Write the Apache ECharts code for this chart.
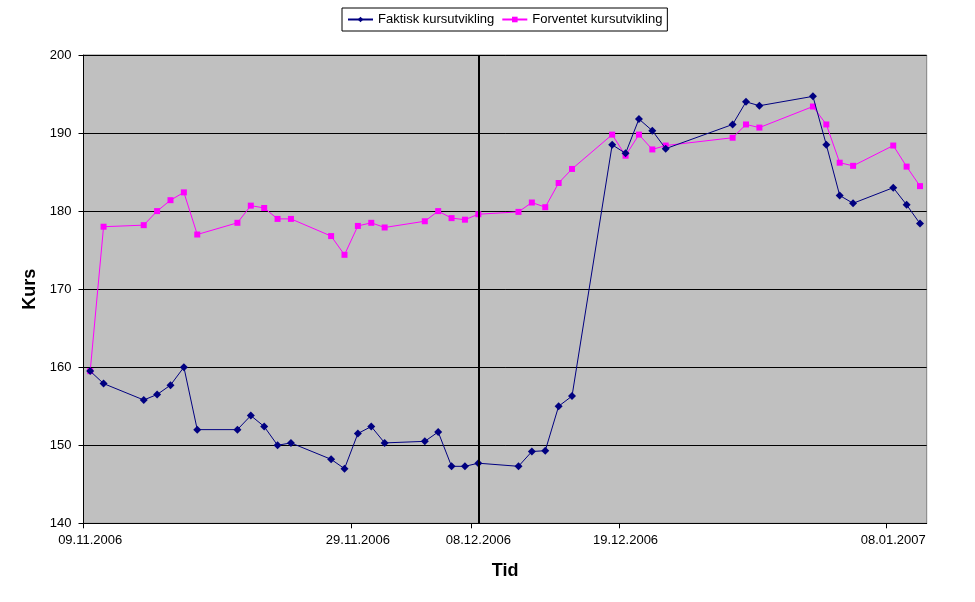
<!DOCTYPE html>
<html>
<head>
<meta charset="utf-8">
<script src="https://cdn.jsdelivr.net/npm/echarts@6/dist/echarts.min.js"></script>
<style>html,body{margin:0;padding:0;background:#fff}#c{width:975px;height:602px}</style>
</head>
<body>
<div id="c"></div>
<script>
// Trading dates (calendar axis runs 09.11.2006 - 10.01.2007)
const tradeDates = [
  '09.11.2006','10.11.2006','13.11.2006','14.11.2006','15.11.2006','16.11.2006','17.11.2006',
  '20.11.2006','21.11.2006','22.11.2006','23.11.2006','24.11.2006',
  '27.11.2006','28.11.2006','29.11.2006','30.11.2006','01.12.2006',
  '04.12.2006','05.12.2006','06.12.2006','07.12.2006','08.12.2006',
  '11.12.2006','12.12.2006','13.12.2006','14.12.2006','15.12.2006',
  '18.12.2006','19.12.2006','20.12.2006','21.12.2006','22.12.2006',
  '27.12.2006','28.12.2006','29.12.2006',
  '02.01.2007','03.01.2007','04.01.2007','05.01.2007',
  '08.01.2007','09.01.2007','10.01.2007'
];
const faktisk = [
  159.5,157.9,155.8,156.5,157.7,160.0,152.0,
  152.0,153.8,152.4,150.0,150.3,
  148.2,147.0,151.5,152.4,150.3,
  150.5,151.7,147.3,147.3,147.7,
  147.3,149.2,149.3,155.0,156.3,
  188.5,187.4,191.8,190.3,188.0,
  191.1,194.0,193.5,
  194.7,188.5,182.0,181.0,
  183.0,180.8,178.4
];
const forventet = [
  159.5,178.0,178.2,180.0,181.4,182.4,177.0,
  178.5,180.7,180.4,179.0,179.0,
  176.8,174.4,178.1,178.5,177.9,
  178.7,180.0,179.1,178.9,179.6,
  179.9,181.1,180.5,183.6,185.4,
  189.8,187.1,189.8,187.9,188.4,
  189.4,191.1,190.7,
  193.4,191.1,186.2,185.8,
  188.4,185.7,183.2
];
const tickLabels = ['09.11.2006','29.11.2006','08.12.2006','19.12.2006','08.01.2007'];
const markerDate = '08.12.2006';
const yMin = 140, yMax = 200, yStep = 10;

// build full calendar category list
function fmt(d){
  const dd = String(d.getDate()).padStart(2,'0');
  const mm = String(d.getMonth()+1).padStart(2,'0');
  return dd+'.'+mm+'.'+d.getFullYear();
}
const categories = [];
{
  const d = new Date(2006,10,9);
  const end = new Date(2007,0,10);
  while (d <= end) { categories.push(fmt(d)); d.setDate(d.getDate()+1); }
}
function fill(vals){
  const arr = categories.map(() => null);
  tradeDates.forEach((t,i) => { arr[categories.indexOf(t)] = vals[i]; });
  return arr;
}
const labelIdx = tickLabels.map(t => categories.indexOf(t));
const FONT = "'Liberation Sans', Arial, sans-serif";

const chart = echarts.init(document.getElementById('c'), null, {renderer:'canvas'});
chart.setOption({
  animation: false,
  backgroundColor: '#ffffff',
  legend: {
    left: 342, top: 8,
    padding: [5,5,5,5],
    itemGap: 7,
    itemWidth: 25, itemHeight: 7,
    borderColor: '#000', borderWidth: 1,
    textStyle: {fontFamily: FONT, fontSize: 13, color: '#000'},
    data: ['Faktisk kursutvikling','Forventet kursutvikling']
  },
  grid: {
    left: 83.5, right: 48.3, top: 55, bottom: 78.7,
    show: true, backgroundColor: '#C0C0C0', borderColor: '#808080', borderWidth: 1
  },
  xAxis: [{
    type: 'category',
    data: categories,
    boundaryGap: true,
    name: 'Tid',
    nameLocation: 'middle',
    nameGap: 39,
    nameTextStyle: {fontFamily: FONT, fontSize: 18, fontWeight: 'bold', color: '#000'},
    axisLine: {onZero: false, lineStyle: {color: '#000', width: 1}},
    axisTick: {show: false},
    axisLabel: {interval: (i) => labelIdx.includes(i), margin: 11,
      fontFamily: FONT, fontSize: 13, color: '#000'},
    splitLine: {show: false}
  }, {
    // helper axis only for tick marks at the labelled days' left boundaries
    type: 'value',
    position: 'bottom',
    min: -0.5, max: categories.length - 0.5,
    axisLine: {show: false, onZero: false},
    axisLabel: {show: false},
    splitLine: {show: false},
    axisTick: {show: true, length: 5, inside: false,
      customValues: labelIdx.map(i => i - 0.5),
      lineStyle: {color: '#000'}}
  }],
  yAxis: {
    type: 'value',
    min: yMin, max: yMax, interval: yStep,
    name: 'Kurs',
    nameLocation: 'middle',
    nameRotate: 90,
    nameGap: 42,
    nameTextStyle: {fontFamily: FONT, fontSize: 18, fontWeight: 'bold', color: '#000'},
    axisLine: {show: true, onZero: false, lineStyle: {color: '#000', width: 1}},
    axisTick: {show: true, length: 5, lineStyle: {color: '#000'}},
    axisLabel: {margin: 12, fontFamily: FONT, fontSize: 13, color: '#000'},
    splitLine: {show: true, lineStyle: {color: '#000', width: 1}}
  },
  series: [
    {
      name: 'Faktisk kursutvikling',
      type: 'line',
      data: fill(faktisk),
      connectNulls: true,
      symbol: 'diamond', symbolSize: 8,
      showAllSymbol: true,
      itemStyle: {color: '#000080'},
      lineStyle: {color: '#000080', width: 1},
      markLine: {
        silent: true, symbol: 'none',
        label: {show: false},
        lineStyle: {color: '#000', width: 2, type: 'solid'},
        data: [{xAxis: markerDate}]
      },
      z: 3
    },
    {
      name: 'Forventet kursutvikling',
      type: 'line',
      data: fill(forventet),
      connectNulls: true,
      symbol: 'rect', symbolSize: 6,
      showAllSymbol: true,
      itemStyle: {color: '#FF00FF'},
      lineStyle: {color: '#FF00FF', width: 1},
      z: 2
    }
  ]
});
</script>
</body>
</html>
